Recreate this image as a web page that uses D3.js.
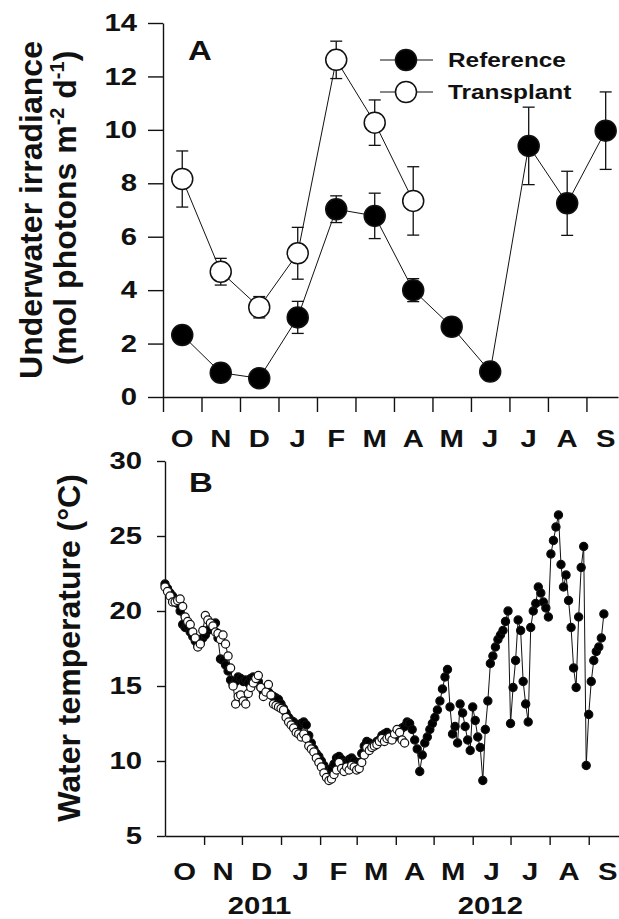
<!DOCTYPE html>
<html>
<head>
<meta charset="utf-8">
<script src="https://cdn.jsdelivr.net/npm/d3@7"></script>
<style>
html, body { margin: 0; padding: 0; background: #fff; }
svg { display: block; }
</style>
</head>
<body>
<div id="chart"></div>
<script>
// --- Data

// Panel A: monthly underwater irradiance, mean and SE
var months = ['O', 'N', 'D', 'J', 'F', 'M', 'A', 'M', 'J', 'J', 'A', 'S']
var refIrr = [2.32, 0.91, 0.70, 2.98, 7.03, 6.78, 4.00, 2.63, 0.95, 9.40, 7.25, 9.97]
var refIrrErr = [0.3, 0.2, 0.2, 0.6, 0.5, 0.85, 0.43, 0.2, 0.2, 1.45, 1.2, 1.45]
var traIrr = [8.16, 4.69, 3.36, 5.38, 12.62, 10.27, 7.34]
var traIrrErr = [1.05, 0.5, 0.4, 0.97, 0.7, 0.85, 1.28]
var yTicksA = [0, 2, 4, 6, 8, 10, 12, 14]

// Panel B: water temperature, one reading every 2 days from 1 Oct 2011
var tempStart = '2011-10-01'
var tempStepDays = 2
var refTemp = [
  21.8, 21.5, 21.2, 21.0, 20.7, 20.5, 20.0, 19.1, 18.9, 19.0,
  18.6, 18.3, 18.0, 17.7, 17.9, 18.2, 18.4, 18.7, 18.9, 19.1,
  19.2, 18.2, 16.8, 16.7, 16.4, 16.0, 15.4, 15.1, 15.3, 15.6,
  15.5, 15.3, 15.4, 15.2, 15.5, 15.6, 15.4, 15.3, 14.9, 14.6,
  14.5, 14.6, 14.4, 14.3, 14.2, 14.1, 13.8, 13.5, 13.2, 12.9,
  12.7, 12.6, 12.4, 12.3, 12.5, 12.6, 12.4, 11.7, 11.2, 10.8,
  10.5, 10.3, 10.0, 9.7, 9.4, 9.3, 9.5, 9.8, 10.2, 10.3,
  10.1, 9.9, 9.8, 10.1, 10.2, 10.0, 9.8, 9.9, 10.5, 11.0,
  11.3, 11.2, 11.0, 11.1, 11.3, 11.4, 11.7, 11.8, 11.9, 11.7,
  11.5, 11.6, 11.8, 12.0, 12.2, 12.3, 12.6, 12.5, 12.1, 11.4,
  10.8, 9.3, 10.4, 11.2, 11.6, 12.1, 12.5, 12.9, 13.4, 14.0,
  14.8, 15.6, 16.1, 13.6, 11.8, 12.3, 11.2, 13.8, 13.2, 12.3,
  11.4, 10.7, 13.6, 12.7, 11.6, 10.9, 8.7, 12.1, 14.0, 16.5,
  17.0, 17.6, 18.1, 18.4, 18.7, 19.3, 20.0, 12.5, 14.9, 16.7,
  19.4, 18.7, 15.3, 13.8, 12.6, 18.9, 20.0, 20.5, 21.6, 21.2,
  20.6, 20.2, 19.6, 23.8, 24.7, 25.6, 26.4, 23.1, 21.6, 22.4,
  20.7, 18.9, 16.2, 14.9, 19.6, 22.9, 24.3, 9.7, 13.1, 15.3,
  16.7, 17.3, 17.6, 18.2, 19.8
]
var traTemp = [
  21.6, 21.3, 21.0, 20.6, 20.6, 20.7, 20.8, 20.3, 19.6, 19.3,
  19.1, 18.6, 18.2, 17.6, 17.8, 18.7, 19.7, 19.4, 19.2, 19.0,
  18.6, 18.5, 18.1, 18.4, 17.8, 17.0, 16.2, 15.0, 13.8, 14.3,
  14.4, 14.0, 13.8, 14.5, 14.9, 15.2, 15.5, 15.7, 14.9, 14.3,
  14.6, 15.1, 14.4, 13.8, 13.7, 13.6, 13.5, 13.4, 12.9, 12.6,
  12.4, 12.2, 11.9, 11.8, 11.6, 11.8, 11.5, 11.0, 10.8, 10.6,
  10.2, 9.9, 9.6, 9.2, 8.9, 8.7, 8.8, 9.1, 9.4, 9.9,
  9.5, 9.3, 9.6, 9.4, 9.7, 9.6, 9.4, 9.5, 9.9, 10.4,
  10.9, 10.7, 10.9, 11.0, 11.1, 11.3, 11.5, 11.3, 11.5, 11.6,
  11.4, 11.8, 12.1, 11.9, 11.4, 11.2
]
var yTicksB = [5, 10, 15, 20, 25, 30]
var years = ['2011', '2012']
var yearLabelDates = ['2011-12-15', '2012-06-15']

// --- Settings

var settings = {}
settings.width = 619
settings.height = 919
settings.font = '"Liberation Sans", Arial, Helvetica, sans-serif'
settings.stretch = 1.22 // horizontal text in the original is wider than plain Arial
settings.ink = '#111'
settings.axis_width = 1.4
settings.temp_marker = 4.1

var svg = d3.select('#chart').append('svg')
  .attr('width', settings.width)
  .attr('height', settings.height)

function wideText(parent, x, y, str, size, anchor) {
  return parent.append('text')
    .attr('transform', 'translate(' + x + ',' + y + ') scale(' + settings.stretch + ',1)')
    .attr('text-anchor', anchor || 'middle')
    .attr('font-size', size)
    .attr('font-weight', 'bold')
    .attr('font-family', settings.font)
    .attr('fill', settings.ink)
    .text(str)
}

function styleAxis(g) {
  g.attr('font-family', settings.font).attr('font-size', 24).attr('font-weight', 'bold')
  g.selectAll('path, line').attr('stroke', settings.ink).attr('stroke-width', settings.axis_width)
  g.selectAll('text').attr('fill', settings.ink)
}

// Left tick labels: stretch them while keeping the right edge in place
function stretchLeftLabels(g, offset) {
  g.selectAll('.tick text')
    .attr('x', -offset / settings.stretch)
    .attr('transform', 'scale(' + settings.stretch + ',1)')
}

// ---- Panel A

var xA = d3.scaleLinear().domain([0, 11.82]).range([163, 618])
var yA = d3.scaleLinear().domain([0, 14]).range([397, 23])

var gA = svg.append('g')

gA.append('g')
  .attr('transform', 'translate(163,0)')
  .call(d3.axisLeft(yA).tickValues(yTicksA).tickSize(15).tickSizeOuter(0).tickPadding(11))
  .call(styleAxis)
  .call(stretchLeftLabels, 26)

gA.append('g')
  .attr('transform', 'translate(0,397)')
  .call(d3.axisBottom(xA).tickValues(d3.range(12)).tickSize(15).tickSizeOuter(0).tickFormat(''))
  .call(styleAxis)

months.forEach(function(m, i) {
  wideText(gA, xA(i + 0.5), 447, m, 24)
})

wideText(gA, 188, 60, 'A', 27, 'start')

// Y title, two lines
var titleA = gA.append('text')
  .attr('transform', 'translate(42,210) rotate(-90)')
  .attr('text-anchor', 'middle')
  .attr('font-size', 32)
  .attr('font-weight', 'bold')
  .attr('font-family', settings.font)
  .attr('fill', settings.ink)
titleA.append('tspan').text('Underwater irradiance')
var titleA2 = gA.append('text')
  .attr('transform', 'translate(76,208) rotate(-90)')
  .attr('text-anchor', 'middle')
  .attr('font-size', 32)
  .attr('font-weight', 'bold')
  .attr('font-family', settings.font)
  .attr('fill', settings.ink)
titleA2.append('tspan').text('(mol photons m')
titleA2.append('tspan').attr('font-size', 20).attr('dy', -12).text('-2')
titleA2.append('tspan').attr('dy', 12).text(' d')
titleA2.append('tspan').attr('font-size', 20).attr('dy', -12).text('-1')
titleA2.append('tspan').attr('dy', 12).text(')')

function drawIrrSeries(values, errs, fill) {
  var g = gA.append('g')
  values.forEach(function(v, i) {
    var x = xA(i + 0.5)
    var y0 = yA(v - errs[i])
    var y1 = yA(v + errs[i])
    g.append('line').attr('x1', x).attr('x2', x).attr('y1', y0).attr('y2', y1)
    g.append('line').attr('x1', x - 6).attr('x2', x + 6).attr('y1', y0).attr('y2', y0)
    g.append('line').attr('x1', x - 6).attr('x2', x + 6).attr('y1', y1).attr('y2', y1)
  })
  g.selectAll('line').attr('stroke', settings.ink).attr('stroke-width', 1.3)

  var line = d3.line()
    .x(function(d, i) { return xA(i + 0.5) })
    .y(function(d) { return yA(d) })
  g.append('path')
    .attr('d', line(values))
    .attr('fill', 'none')
    .attr('stroke', settings.ink)
    .attr('stroke-width', 1)

  g.selectAll('circle').data(values).enter().append('circle')
    .attr('cx', function(d, i) { return xA(i + 0.5) })
    .attr('cy', function(d) { return yA(d) })
    .attr('r', 10.5)
    .attr('fill', fill)
    .attr('stroke', settings.ink)
    .attr('stroke-width', 1.5)
}

drawIrrSeries(traIrr, traIrrErr, '#fff')
drawIrrSeries(refIrr, refIrrErr, '#000')

// Legend
var legend = gA.append('g')
var legendItems = [
  { label: 'Reference', fill: '#000', y: 60, base: 67 },
  { label: 'Transplant', fill: '#fff', y: 92, base: 99 }
]
legendItems.forEach(function(it) {
  legend.append('line')
    .attr('x1', 380).attr('x2', 433).attr('y1', it.y).attr('y2', it.y)
    .attr('stroke', settings.ink).attr('stroke-width', 1.2)
  legend.append('circle')
    .attr('cx', 406).attr('cy', it.y).attr('r', 10.5)
    .attr('fill', it.fill).attr('stroke', settings.ink).attr('stroke-width', 1.5)
  wideText(legend, 448, it.base, it.label, 20, 'start')
})

// ---- Panel B

var parseDay = d3.utcParse('%Y-%m-%d')
var t0 = parseDay(tempStart)
var xB = d3.scaleUtc().domain([t0, d3.utcDay.offset(t0, 360)]).range([165, 619])
var yB = d3.scaleLinear().domain([5, 30]).range([836, 461])

var gB = svg.append('g')

gB.append('g')
  .attr('transform', 'translate(165,0)')
  .call(d3.axisLeft(yB).tickValues(yTicksB).tickSize(8).tickSizeOuter(0).tickPadding(15))
  .call(styleAxis)
  .call(stretchLeftLabels, 23)

var monthStarts = d3.utcMonth.range(t0, d3.utcMonth.offset(t0, 12))
gB.append('g')
  .attr('transform', 'translate(0,836)')
  .call(d3.axisBottom(xB).tickValues(monthStarts.slice(1)).tickSize(9).tickSizeOuter(0).tickFormat(''))
  .call(styleAxis)

monthStarts.forEach(function(m, i) {
  var xm = (xB(m) + xB(d3.utcMonth.offset(m, 1))) / 2
  wideText(gB, xm, 880, months[i], 24)
})
years.forEach(function(y, i) {
  wideText(gB, xB(parseDay(yearLabelDates[i])), 914, y, 24)
})

wideText(gB, 189, 492, 'B', 27, 'start')

gB.append('text')
  .attr('transform', 'translate(80,648) rotate(-90)')
  .attr('text-anchor', 'middle')
  .attr('font-size', 32)
  .attr('font-weight', 'bold')
  .attr('font-family', settings.font)
  .attr('fill', settings.ink)
  .text('Water temperature (\u00B0C)')

function drawTempSeries(values, fill) {
  var pts = values.map(function(v, i) {
    return { date: d3.utcDay.offset(t0, i * tempStepDays), value: v }
  })
  var g = gB.append('g')
  var line = d3.line()
    .x(function(d) { return xB(d.date) })
    .y(function(d) { return yB(d.value) })
  g.append('path')
    .attr('d', line(pts))
    .attr('fill', 'none')
    .attr('stroke', settings.ink)
    .attr('stroke-width', 1)
  g.selectAll('circle').data(pts).enter().append('circle')
    .attr('cx', function(d) { return xB(d.date) })
    .attr('cy', function(d) { return yB(d.value) })
    .attr('r', settings.temp_marker)
    .attr('fill', fill)
    .attr('stroke', settings.ink)
    .attr('stroke-width', 1.2)
}

drawTempSeries(refTemp, '#000')
drawTempSeries(traTemp, '#fff')
</script>
</body>
</html>
